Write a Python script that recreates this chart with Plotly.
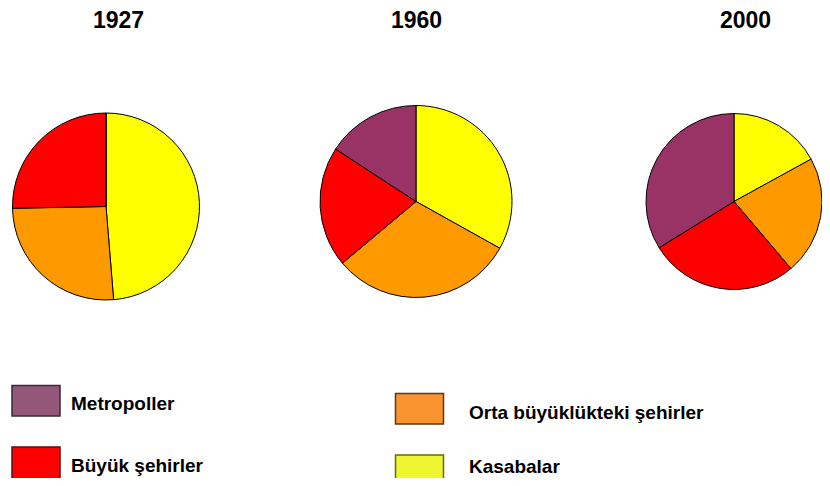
import plotly.graph_objects as go

# The page body has an 8px margin, so the figure occupies 814x470 starting at (8, 8).
OFF = 8
W, H = 814, 470

categories = ["Metropoller", "Büyük şehirler", "Orta büyüklükteki şehirler", "Kasabalar"]
years = ["1927", "1960", "2000"]
values_1927 = [0.0, 25.3, 26.0, 48.7]
values_1960 = [15.8, 20.3, 30.8, 33.1]
values_2000 = [33.8, 27.4, 21.8, 17.0]
pie_colors = ["#993366", "#FF0000", "#FF9900", "#FFFF00"]
legend_colors = ["#94577A", "#FF0000", "#F99431", "#EEF531"]
legend_edges = ["#3A2A33", "#5A1010", "#5A3A10", "#6A6A10"]

all_values = [values_1927, values_1960, values_2000]


def px(x):
    return (x - OFF) / W


def py(y):
    return 1 - (y - OFF) / H


# pie domains in window pixel space (x0, x1, ytop, ybottom)
domains_px = [(12, 200, 113, 300), (320, 512, 105.5, 297.5), (646, 822, 113.5, 289.5)]
title_x_px = [119, 416, 745]

fig = go.Figure()
for vals, (x0, x1, yt, yb) in zip(all_values, domains_px):
    fig.add_trace(go.Pie(
        labels=categories[::-1], values=vals[::-1], sort=False,
        direction="clockwise", rotation=0,
        marker=dict(colors=pie_colors[::-1], line=dict(color="black", width=1)),
        textinfo="none", hoverinfo="none", showlegend=False,
        domain=dict(x=[px(x0), px(x1)], y=[py(yb), py(yt)]),
    ))

annotations = []
for yr, tx in zip(years, title_x_px):
    annotations.append(dict(text="<b>%s</b>" % yr, x=px(tx), y=py(20),
                            xref="paper", yref="paper", showarrow=False,
                            xanchor="center", yanchor="middle",
                            font=dict(family="Liberation Sans, Arial", size=23, color="black")))

# legend boxes: (box x, box top, box width, box height, text x, text center y)
legend_pos = [(12, 385.5, 48, 30.5, 69, 403.5), (12, 447, 48, 32, 69, 465),
              (395.5, 393.5, 48, 30.5, 467, 412.5), (395.5, 455, 48, 33, 467, 466.5)]
shapes = []
for cat, col, edge, (bx, by, bw, bh, tx, ty) in zip(categories, legend_colors, legend_edges, legend_pos):
    shapes.append(dict(type="rect", xref="paper", yref="paper",
                       x0=px(bx), x1=px(bx + bw), y0=py(by + bh), y1=py(by),
                       fillcolor=col, line=dict(color=edge, width=1.5)))
    annotations.append(dict(text="<b>%s</b>" % cat, x=px(tx), y=py(ty),
                            xref="paper", yref="paper", showarrow=False,
                            xanchor="left", yanchor="middle",
                            font=dict(family="Liberation Sans, Arial", size=19, color="black")))

fig.update_layout(
    width=W, height=H, autosize=False,
    margin=dict(l=0, r=0, t=0, b=0),
    paper_bgcolor="white", plot_bgcolor="white",
    annotations=annotations, shapes=shapes,
)

fig.write_html("out.html")
